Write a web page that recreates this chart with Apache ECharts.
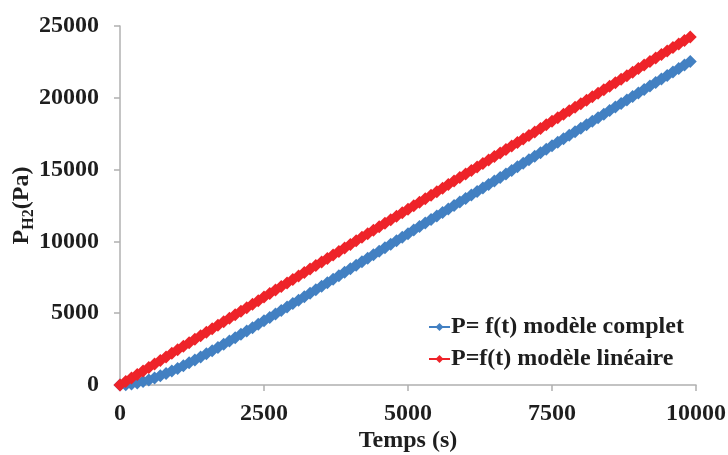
<!DOCTYPE html>
<html>
<head>
<meta charset="utf-8">
<script src="https://cdn.jsdelivr.net/npm/echarts@6/dist/echarts.min.js"></script>
<style>html,body{margin:0;padding:0;background:#fff}#c{width:728px;height:455px}</style>
</head>
<body>
<div id="c"></div>
<script>
var times = [0,100,200,300,400,500,600,700,800,900,1000,1100,1200,1300,1400,1500,1600,1700,1800,1900,2000,2100,2200,2300,2400,2500,2600,2700,2800,2900,3000,3100,3200,3300,3400,3500,3600,3700,3800,3900,4000,4100,4200,4300,4400,4500,4600,4700,4800,4900,5000,5100,5200,5300,5400,5500,5600,5700,5800,5900,6000,6100,6200,6300,6400,6500,6600,6700,6800,6900,7000,7100,7200,7300,7400,7500,7600,7700,7800,7900,8000,8100,8200,8300,8400,8500,8600,8700,8800,8900,9000,9100,9200,9300,9400,9500,9600,9700,9800,9900];
var pComplet = [0,19,68,141,239,356,490,639,800,973,1155,1346,1544,1747,1957,2171,2390,2612,2836,3064,3294,3526,3759,3994,4230,4468,4706,4946,5185,5426,5667,5909,6152,6393,6636,6879,7123,7366,7609,7853,8098,8342,8586,8830,9074,9319,9563,9808,10052,10296,10541,10786,11030,11274,11519,11764,12009,12254,12498,12743,12988,13233,13478,13722,13967,14212,14457,14702,14946,15191,15436,15681,15926,16170,16415,16660,16905,17150,17394,17639,17884,18129,18374,18618,18863,19108,19353,19598,19842,20087,20332,20577,20822,21066,21311,21556,21801,22046,22290,22535];
var pLineaire = [0,245,490,734,979,1224,1469,1714,1958,2203,2448,2693,2938,3182,3427,3672,3917,4162,4406,4651,4896,5141,5386,5630,5875,6120,6365,6610,6854,7099,7344,7589,7834,8078,8323,8568,8813,9058,9302,9547,9792,10037,10282,10526,10771,11016,11261,11506,11750,11995,12240,12485,12730,12974,13219,13464,13709,13954,14198,14443,14688,14933,15178,15422,15667,15912,16157,16402,16646,16891,17136,17381,17626,17870,18115,18360,18605,18850,19094,19339,19584,19829,20074,20318,20563,20808,21053,21298,21542,21787,22032,22277,22522,22766,23011,23256,23501,23746,23990,24235];
var seriesNames = ['P= f(t) modèle complet', 'P=f(t) modèle linéaire'];
var xTitle = 'Temps (s)';

var FONT = "'Liberation Serif','Times New Roman',serif";
var TXT = '#1e1e1e';
var AX = '#B0B0B0';
function pairs(xs, ys){ return xs.map(function(x,i){ return [x, ys[i]]; }); }
function plain(v){ return String(v); }

var chart = echarts.init(document.getElementById('c'), null, {renderer:'canvas'});
chart.setOption({
  animation: false,
  backgroundColor: '#fff',
  grid: {left:120, right:32, top:26, bottom:70, containLabel:false, outerBoundsMode:'none'},
  xAxis: {
    type:'value', min:0, max:10000, interval:2500,
    name: xTitle, nameLocation:'middle', nameGap:44, nameMoveOverlap:false,
    nameTextStyle:{fontFamily:FONT, fontWeight:'bold', fontSize:24, color:TXT},
    axisLine:{show:true, onZero:false, lineStyle:{color:AX, width:1.5}},
    axisTick:{show:true, inside:false, length:6, lineStyle:{color:AX, width:1.5}},
    splitLine:{show:false},
    axisLabel:{fontFamily:FONT, fontWeight:'bold', fontSize:24, color:TXT, margin:17, formatter:plain}
  },
  yAxis: {
    type:'value', min:0, max:25000, interval:5000,
    name:'{a|P}{b|H2}{a|(Pa)}', nameLocation:'middle', nameGap:83, nameRotate:90, nameMoveOverlap:false,
    nameTextStyle:{
      rich:{
        a:{fontFamily:FONT, fontWeight:'bold', fontSize:24, color:TXT, lineHeight:30, verticalAlign:'middle'},
        b:{fontFamily:FONT, fontWeight:'bold', fontSize:16, color:TXT, lineHeight:22, verticalAlign:'bottom'}
      }
    },
    axisLine:{show:true, lineStyle:{color:AX, width:1.5}},
    axisTick:{show:true, inside:false, length:6, lineStyle:{color:AX, width:1.5}},
    splitLine:{show:false},
    axisLabel:{fontFamily:FONT, fontWeight:'bold', fontSize:24, color:TXT, margin:21, formatter:plain}
  },
  legend: {
    orient:'vertical', left:423, top:310, itemGap:8,
    itemWidth:21, itemHeight:10,
    data: seriesNames,
    textStyle:{fontFamily:FONT, fontWeight:'bold', fontSize:24, color:TXT, padding:[0,0,0,-4]}
  },
  series: [
    {name:seriesNames[0], type:'line', data:pairs(times, pComplet), symbol:'diamond', symbolSize:13,
     showAllSymbol:true, lineStyle:{color:'#4280C2', width:2}, itemStyle:{color:'#4280C2', borderWidth:0}},
    {name:seriesNames[1], type:'line', data:pairs(times, pLineaire), symbol:'diamond', symbolSize:13,
     showAllSymbol:true, lineStyle:{color:'#EE2329', width:2}, itemStyle:{color:'#EE2329', borderWidth:0}}
  ]
});
</script>
</body>
</html>
